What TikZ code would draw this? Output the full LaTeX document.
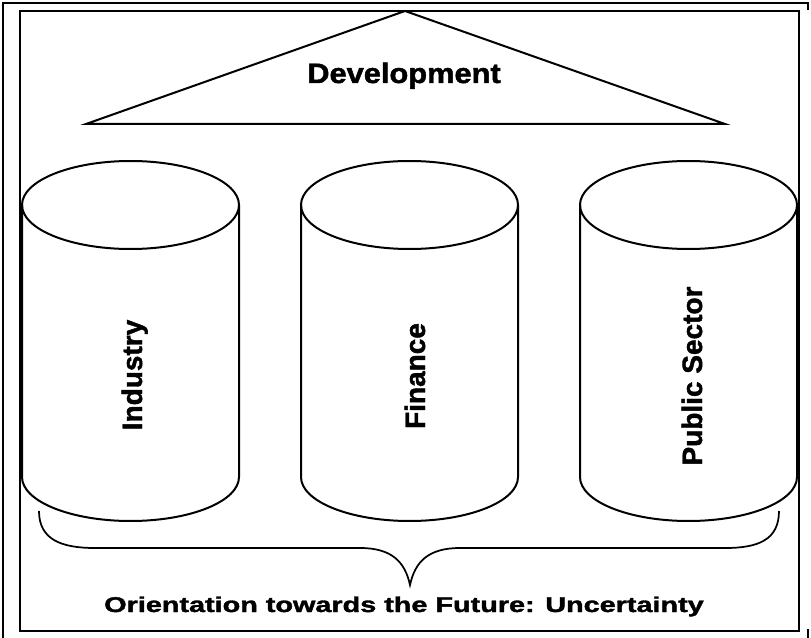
\documentclass[tikz,border=0pt]{standalone}
\usepackage{fontspec}
\setmainfont{Liberation Sans}[BoldFeatures={FakeBold=1.5}]
\tikzstyle{cyl}=[line width=1.5pt]
\tikzstyle{lbl}=[font=\fontsize{21}{25}\selectfont\bfseries,
                inner sep=0pt]
\tikzstyle{frame}=[line width=2.2pt]

\begin{document}
\begin{tikzpicture}[x=0.75pt,y=-0.75pt,semithick]
\useasboundingbox (0,0) rectangle (811,638);

% frames
\draw[frame] (3,638) -- (3,3) -- (808,3) -- (808,10);
\draw[frame] (808,629) -- (808,638);
\draw[line width=1.1pt] (20,11) rectangle (799,631);

% roof
\coordinate (top) at (405,11);
\coordinate (bl) at (86,124);
\coordinate (br) at (725,124);
\draw[cyl] (bl) -- (top) -- (br) -- cycle;
\node[lbl,anchor=base] (dev) at (404,83)
     {\scalebox{1.1}[1]{Development}};

% pillars
\draw[cyl] (130.5,205) ellipse [x radius=108.5, y radius=44];
\draw[cyl] (22,205) -- (22,477)
     arc[start angle=180, end angle=0, x radius=108.5, y radius=44]
     -- (239,205);
\draw[cyl] (409.5,205) ellipse [x radius=108.5, y radius=44];
\draw[cyl] (301,205) -- (301,477)
     arc[start angle=180, end angle=0, x radius=108.5, y radius=44]
     -- (518,205);
\draw[cyl] (688.5,205) ellipse [x radius=108.5, y radius=44];
\draw[cyl] (580,205) -- (580,477)
     arc[start angle=180, end angle=0, x radius=108.5, y radius=44]
     -- (797,205);

% pillar labels
\node[lbl,rotate=90,anchor=base] (ind) at (142,375) {Industry};
\node[lbl,rotate=90,anchor=base] (fin) at (425,376) {Finance};
\node[lbl,rotate=90,anchor=base] (pub) at (702,376) {Public Sector};

% foundation
\coordinate (b1) at (39,511);
\coordinate (b2) at (779,511);
\coordinate (tip) at (410,585);
\draw[cyl,line width=1.3pt] (b1) .. controls (39,540) and (62,548) .. (95,548)
     -- (360,548) .. controls (392,548) and (405,562) .. (tip)
     .. controls (415,562) and (428,548) .. (460,548)
     -- (725,548) .. controls (758,548) and (779,540) .. (b2);
\node[lbl,font=\fontsize{16}{19}\selectfont\bfseries,anchor=base] (fut) at (404,612)
     {\scalebox{1.35}[1]{Orientation towards the Future: Uncertainty}};
\end{tikzpicture}
\end{document}
